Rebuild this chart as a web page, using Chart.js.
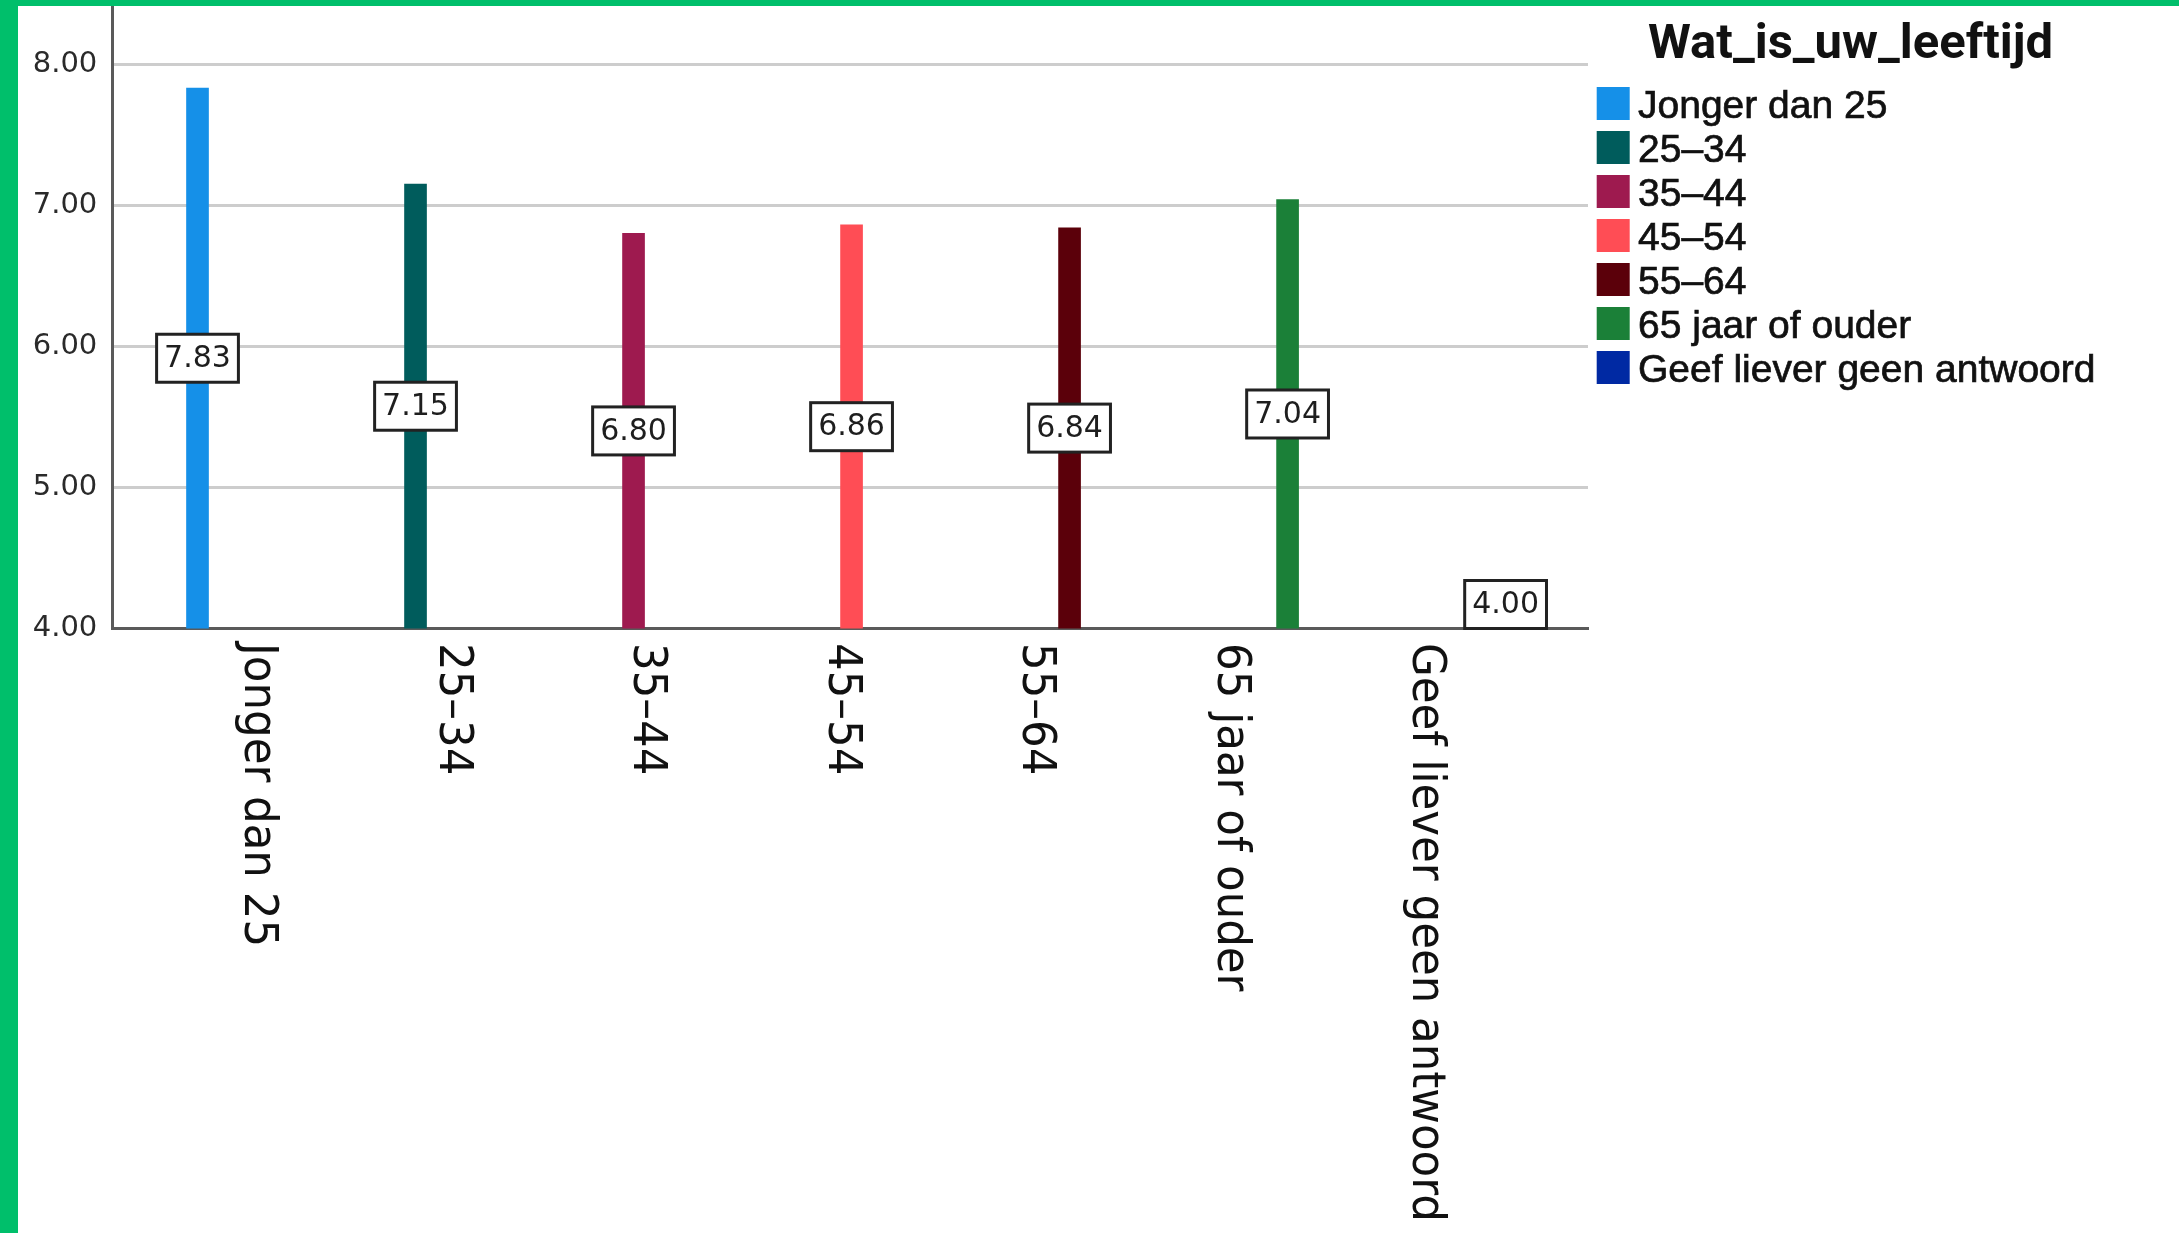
<!DOCTYPE html>
<html><head><meta charset="utf-8">
<script src="https://cdn.jsdelivr.net/npm/chart.js@4.4.0/dist/chart.umd.min.js"></script>
<style>
html,body{margin:0;padding:0;width:2179px;height:1233px;overflow:hidden;background:#00bf6b;}
#wrap{position:absolute;left:18px;top:6px;width:2161px;height:1227px;background:#fff;}
canvas{display:block;}
</style></head><body>
<div id="wrap"><canvas id="c" width="2161" height="1227"></canvas></div>
<script>
// ---- data ----
const categories = ['Jonger dan 25', '25–34', '35–44', '45–54', '55–64', '65 jaar of ouder', 'Geef liever geen antwoord'];
const meanValues = [7.83, 7.15, 6.80, 6.86, 6.84, 7.04, 4.00];
const seriesColors = ['#1590e8', '#005c5c', '#9e1a4f', '#ff4d55', '#5b000a', '#1b8038', '#0029a3'];
const yTicks = [4, 5, 6, 7, 8];
const legendTitle = 'Wat_is_uw_leeftijd';

const datasets = categories.map((c, i) => ({
  label: c,
  data: [{x: i, y: meanValues[i]}],
  backgroundColor: seriesColors[i],
  borderWidth: 0,
  barThickness: 22,
  grouped: false,
  xAxisID: 'x',
  yAxisID: 'y'
}));

const valueBoxes = {
  id: 'valueBoxes',
  afterDatasetsDraw(chart) {
    const ctx = chart.ctx, area = chart.chartArea;
    ctx.save();
    ctx.font = '30px "DejaVu Sans"';
    chart.data.datasets.forEach((ds, i) => {
      const meta = chart.getDatasetMeta(i);
      meta.data.forEach((bar, j) => {
        const txt = ds.data[j].y.toFixed(2);
        const w = ctx.measureText(txt).width + 15;
        const h = 48;
        const base = Math.min(bar.base, area.bottom);
        let cy = (bar.y + base) / 2;
        cy = Math.min(cy, area.bottom - h / 2);
        const x0 = bar.x - w / 2, y0 = cy - h / 2;
        ctx.fillStyle = '#fff';
        ctx.fillRect(x0, y0, w, h);
        ctx.lineWidth = 3;
        ctx.strokeStyle = '#222';
        ctx.strokeRect(x0, y0, w, h);
        ctx.fillStyle = '#1e1e1e';
        ctx.textAlign = 'center';
        ctx.textBaseline = 'middle';
        ctx.fillText(txt, bar.x, cy + 1);
      });
    });
    ctx.restore();
  }
};

const catLabels = {
  id: 'catLabels',
  afterDraw(chart) {
    const xl = chart.scales.xl, ctx = chart.ctx;
    ctx.save();
    ctx.font = '43.5px "DejaVu Sans"';
    ctx.fillStyle = '#111';
    ctx.textAlign = 'left';
    ctx.textBaseline = 'alphabetic';
    categories.forEach((c, k) => {
      const px = xl.getPixelForValue(k);
      ctx.save();
      ctx.translate(px, chart.chartArea.bottom + 14.5);
      ctx.rotate(Math.PI / 2);
      ctx.scale(1, 1.08);
      ctx.fillText(c, 0, 0);
      ctx.restore();
    });
    ctx.restore();
  }
};

const sideLegend = {
  id: 'sideLegend',
  afterDraw(chart) {
    const ctx = chart.ctx;
    const left = chart.chartArea.right + 8.7;
    ctx.save();
    ctx.fillStyle = '#111';
    ctx.textAlign = 'left';
    ctx.textBaseline = 'alphabetic';
    ctx.font = 'bold 49px Roboto';
    ctx.fillText(legendTitle, left + 51.3, 52);
    ctx.font = '39px "Liberation Sans"';
    ctx.strokeStyle = '#111';
    ctx.lineWidth = 0.7;
    chart.data.datasets.forEach((ds, k) => {
      const cy = 97.5 + 44 * k;
      ctx.fillStyle = ds.backgroundColor;
      ctx.fillRect(left, cy - 16.5, 33, 33);
      ctx.fillStyle = '#111';
      ctx.fillText(ds.label, left + 41.3, cy + 14);
      ctx.strokeText(ds.label, left + 41.3, cy + 14);
    });
    ctx.restore();
  }
};

new Chart(document.getElementById('c'), {
  type: 'bar',
  data: {datasets},
  options: {
    responsive: false,
    animation: false,
    devicePixelRatio: 1,
    layout: {padding: {left: 0, right: 591, top: 0, bottom: 0}},
    plugins: {legend: {display: false}, tooltip: {enabled: false}},
    scales: {
      x: {
        type: 'linear', position: 'bottom', min: -0.389, max: 6.378, offset: false,
        grid: {display: false, drawTicks: false, offset: false},
        border: {display: true, color: '#5a5a5a', width: 3},
        ticks: {display: false},
        afterFit(s) { s.height = 604.5; s.paddingLeft = 0; s.paddingRight = 0; }
      },
      xl: {
        type: 'linear', position: 'bottom', min: -0.680, max: 6.901, offset: false, display: false
      },
      y: {
        type: 'linear', min: 4, max: 8.411,
        afterBuildTicks(s) { s.ticks = yTicks.map(v => ({value: v})); },
        ticks: {
          padding: 15.4,
          font: {family: 'DejaVu Sans', size: 29},
          color: '#2a2a2a',
          callback: v => Number(v).toFixed(2)
        },
        grid: {
          color: c => (c.tick && c.tick.value === 4) ? 'rgba(0,0,0,0)' : '#cdcdcd',
          lineWidth: 3, drawTicks: false
        },
        border: {display: true, color: '#5a5a5a', width: 3},
        afterFit(s) { s.width = 94.7; s.paddingTop = 0; s.paddingBottom = 0; }
      }
    }
  },
  plugins: [valueBoxes, catLabels, sideLegend]
});
</script>
</body></html>
